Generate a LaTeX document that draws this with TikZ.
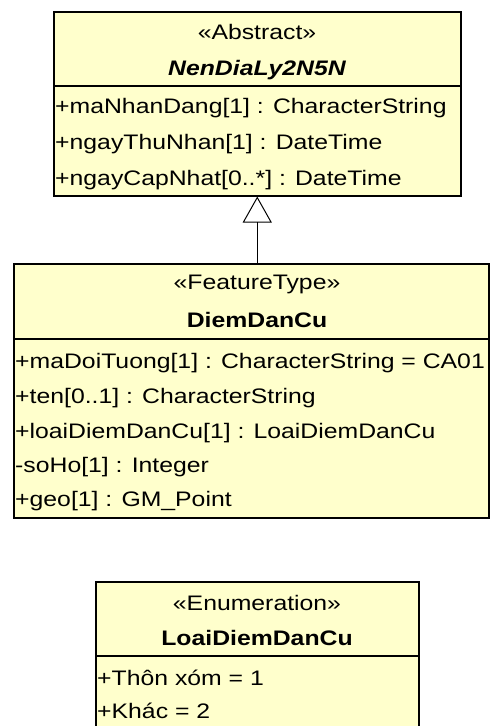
\documentclass[tikz,border=0pt]{standalone}
\usepackage{fontspec}
\setmainfont[FakeStretch=1.18]{Liberation Sans}
\usetikzlibrary{arrows.meta}
\definecolor{umlfill}{RGB}{255,255,204}
\begin{document}
\begin{tikzpicture}[x=1pt,y=-1pt,
  box/.style={draw=black, line width=1.5pt, fill=umlfill, rectangle, inner sep=0pt, anchor=north west},
  stereo/.style={anchor=base, inner sep=0pt, font=\fontsize{21}{21}\selectfont},
  cname/.style={anchor=base, inner sep=0pt, font=\fontsize{21}{21}\selectfont\bfseries},
  cnameit/.style={anchor=base, inner sep=0pt, font=\fontsize{21}{21}\selectfont\bfseries\itshape},
  attr/.style={anchor=base west, inner sep=0pt, font=\fontsize{21}{21}\selectfont},
  sep/.style={line width=1.5pt},
  gen/.style={line width=1pt, -{Triangle[open, length=26pt, width=29pt, line width=1pt]}}]
\clip (0,0) rectangle (490,726);
% NenDiaLy2N5N
\node[box, minimum width=407pt, minimum height=184pt] (b1) at (53,11) {};
\draw[sep] (b1.north west |- 0,86) -- (b1.north east |- 0,86);
\node[stereo] (b1s) at (257,39) {«Abstract»};
\node[cnameit] (b1n) at (257,75) {NenDiaLy2N5N};
\node[attr] (b1a1) at (55,113) {+maNhanDang[1] : CharacterString};
\node[attr] (b1a2) at (55,149) {+ngayThuNhan[1] : DateTime};
\node[attr] (b1a3) at (55,185) {+ngayCapNhat[0..*] : DateTime};
% DiemDanCu
\node[box, minimum width=475pt, minimum height=254pt] (b2) at (13,263) {};
\draw[sep] (b2.north west |- 0,339) -- (b2.north east |- 0,339);
\node[stereo] (b2s) at (257,289) {«FeatureType»};
\node[cname] (b2n) at (257,327) {DiemDanCu};
\node[attr] (b2a1) at (15,368) {+maDoiTuong[1] : CharacterString = CA01};
\node[attr] (b2a2) at (15,403) {+ten[0..1] : CharacterString};
\node[attr] (b2a3) at (15,438) {+loaiDiemDanCu[1] : LoaiDiemDanCu};
\node[attr] (b2a4) at (15,472) {-soHo[1] : Integer};
\node[attr] (b2a5) at (15,506) {+geo[1] : GM\_Point};
% LoaiDiemDanCu
\node[box, minimum width=323pt, minimum height=170pt] (b3) at (95,581) {};
\draw[sep] (b3.north west |- 0,656) -- (b3.north east |- 0,656);
\node[stereo] (b3s) at (257,610) {«Enumeration»};
\node[cname] (b3n) at (257,645) {LoaiDiemDanCu};
\node[attr] (b3a1) at (97,685) {+Thôn xóm = 1};
\node[attr] (b3a2) at (97,718) {+Khác = 2};
% generalization
\draw[gen] (b1.south |- b2.north) -- (b1.south);
\end{tikzpicture}
\end{document}
